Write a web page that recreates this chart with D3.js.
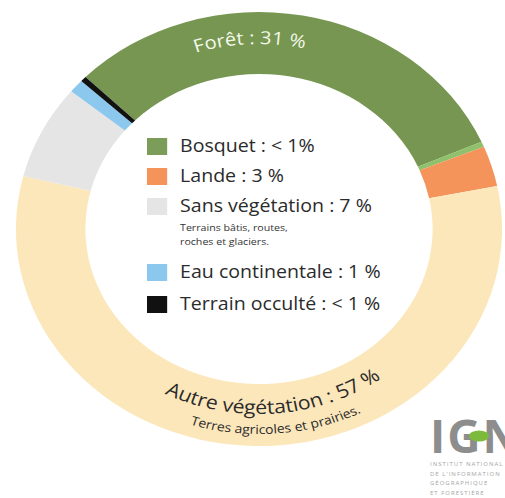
<!DOCTYPE html>
<html>
<head>
<meta charset="utf-8">
<script src="https://cdn.jsdelivr.net/npm/d3@7"></script>
<style>
  body { margin: 0; background: #fff; }
  svg { display: block; font-family: "Open Sans", sans-serif; }
</style>
</head>
<body>
<div id="chart"></div>
<script>
var width = 505, height = 498;

// ring segments, clockwise from the black line at the top-left
var categories = ["Forêt", "Bosquet", "Lande", "Autre végétation", "Sans végétation", "Eau continentale", "Terrain occulté"];
var values = [31, 0.4, 3, 57, 7, 1, 0.4];
var colors = ["#769651", "#8fc06b", "#f4935a", "#fce7bb", "#e5e5e5", "#8cc8ee", "#111111"];

// legend entries
var legendLabels = ["Bosquet : < 1%", "Lande : 3 %", "Sans végétation : 7 %", "Eau continentale : 1 %", "Terrain occulté : < 1 %"];
var legendColors = ["#7c9d5a", "#f4935a", "#e5e5e5", "#8cc8ee", "#111111"];
var legendNote = ["Terrains bâtis, routes,", "roches et glaciers."];

var ringLabels = ["Forêt : 31 %", "Autre végétation : 57 %"];
var ringNote = "Terres agricoles et prairies.";

var cx = 259, cy = 229, rInner = 155, rOuter = 217, sx = 1.12;
var startA = -0.795;

var svg = d3.select("#chart").append("svg")
    .attr("width", width)
    .attr("height", height);

var ring = svg.append("g")
    .attr("transform", "translate(" + cx + "," + cy + ") scale(" + sx + ",1)");

var pie = d3.pie().sort(null).startAngle(startA).endAngle(startA + 2 * Math.PI);
var arc = d3.arc().innerRadius(rInner).outerRadius(rOuter);

ring.selectAll("path.seg")
    .data(pie(values))
    .join("path")
    .attr("class", "seg")
    .attr("d", arc)
    .attr("fill", (d, i) => colors[i]);

// paths for the curved labels
var defs = svg.append("defs");
function halfCircle(id, r, top) {
    defs.append("path")
        .attr("id", id)
        .attr("d", top
            ? "M" + (-r) + ",0 A" + r + "," + r + " 0 0 1 " + r + ",0"
            : "M" + (-r) + ",0 A" + r + "," + r + " 0 0 0 " + r + ",0");
}
halfCircle("topArc", 185, true);
halfCircle("botArc", 185, false);
halfCircle("botArc2", 205, false);

ring.append("text")
    .attr("fill", "#f4f8ea")
    .attr("font-size", 18)
    .append("textPath")
    .attr("href", "#topArc")
    .attr("startOffset", "48.6%")
    .attr("text-anchor", "middle")
    .text(ringLabels[0]);

ring.append("text")
    .attr("fill", "#2b2b2b")
    .attr("font-size", 19)
    .append("textPath")
    .attr("href", "#botArc")
    .attr("startOffset", "52.5%")
    .attr("text-anchor", "middle")
    .text(ringLabels[1]);

ring.append("text")
    .attr("fill", "#2b2b2b")
    .attr("font-size", 12.5)
    .append("textPath")
    .attr("href", "#botArc2")
    .attr("startOffset", "52.5%")
    .attr("text-anchor", "middle")
    .text(ringNote);

// legend, stretched like the ring
var rowY = [152, 182, 212, 278, 310];
var legend = svg.append("g").attr("transform", "translate(147,0) scale(" + sx + ",1)");
legendLabels.forEach(function(t, i) {
    legend.append("rect")
        .attr("x", 0)
        .attr("y", rowY[i] - 14)
        .attr("width", 18)
        .attr("height", 17)
        .attr("fill", legendColors[i]);
    legend.append("text")
        .attr("x", 29.5)
        .attr("y", rowY[i])
        .attr("font-size", 17.5)
        .attr("fill", "#2b2b2b")
        .text(t);
});
legendNote.forEach(function(t, i) {
    legend.append("text")
        .attr("x", 29.5)
        .attr("y", 231 + i * 14)
        .attr("font-size", 9.5)
        .attr("fill", "#333")
        .text(t);
});

// IGN logo (cut by the right edge, as in the source)
var logo = svg.append("g").attr("transform", "translate(430,453)");
logo.append("text")
    .attr("font-size", 46)
    .attr("font-weight", "bold")
    .attr("fill", "#8d8d8d")
    .attr("letter-spacing", 2)
    .text("IGN");
logo.append("ellipse")
    .attr("cx", 49).attr("cy", -17)
    .attr("rx", 10).attr("ry", 5.5)
    .attr("fill", "#7cba3c");
["INSTITUT NATIONAL", "DE L'INFORMATION", "GÉOGRAPHIQUE", "ET FORESTIÈRE"].forEach(function(t, i) {
    logo.append("text")
        .attr("y", 13 + i * 9.5)
        .attr("font-size", 6)
        .attr("fill", "#a5a5a5")
        .attr("letter-spacing", 1)
        .text(t);
});
</script>
</body>
</html>
